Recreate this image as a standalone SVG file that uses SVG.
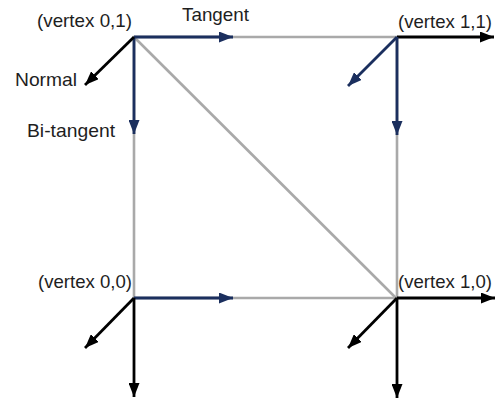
<svg xmlns="http://www.w3.org/2000/svg" width="498" height="401" viewBox="0 0 498 401">
<style>
.edge{stroke:#a9a9a9;stroke-width:2.6;fill:none}
.nv{stroke:#1b2f5e;stroke-width:2.8;fill:none}
.bk{stroke:#000;stroke-width:2.8;fill:none}
text{font-family:"Liberation Sans",Arial,sans-serif;font-size:18.5px;fill:#1e1e1e}
</style>
<defs>
<marker id="an" viewBox="0 0 14 11" refX="14" refY="5.5" markerWidth="14" markerHeight="11" markerUnits="userSpaceOnUse" orient="auto"><path d="M0,0L14,5.5L0,11z" fill="#1b2f5e"/></marker>
<marker id="ab" viewBox="0 0 14 11" refX="14" refY="5.5" markerWidth="14" markerHeight="11" markerUnits="userSpaceOnUse" orient="auto"><path d="M0,0L14,5.5L0,11z" fill="#000"/></marker>
</defs>
<g id="mesh">
<path class="edge" d="M134,37H397V298H134Z"/>
<path class="edge" d="M134,37L396,298"/>
</g>
<g id="connectors">
<path class="nv" d="M134,37H233" marker-end="url(#an)"/>
<path class="nv" d="M134,37V134" marker-end="url(#an)"/>
<path class="bk" d="M134,37L85,85" marker-end="url(#ab)"/>
<path class="bk" d="M397,37H494" marker-end="url(#ab)"/>
<path class="nv" d="M397,37L348,86" marker-end="url(#an)"/>
<path class="nv" d="M397,37V135" marker-end="url(#an)"/>
<path class="nv" d="M134,298H233" marker-end="url(#an)"/>
<path class="bk" d="M134,298L85,348" marker-end="url(#ab)"/>
<path class="bk" d="M134,298V397" marker-end="url(#ab)"/>
<path class="bk" d="M397,298H495" marker-end="url(#ab)"/>
<path class="bk" d="M397,298L348,348" marker-end="url(#ab)"/>
<path class="bk" d="M397,298V398" marker-end="url(#ab)"/>
</g>
<g id="v01"><text x="37" y="27" textLength="95" lengthAdjust="spacingAndGlyphs">(vertex 0,1)</text></g>
<g id="v11"><text x="398" y="28" textLength="94" lengthAdjust="spacingAndGlyphs">(vertex 1,1)</text></g>
<g id="v00"><text x="38" y="288" textLength="94" lengthAdjust="spacingAndGlyphs">(vertex 0,0)</text></g>
<g id="v10"><text x="398" y="288" textLength="94" lengthAdjust="spacingAndGlyphs">(vertex 1,0)</text></g>
<g id="labels">
<text x="182" y="21" textLength="67" lengthAdjust="spacingAndGlyphs">Tangent</text>
<text x="15" y="86" textLength="62" lengthAdjust="spacingAndGlyphs">Normal</text>
<text x="27" y="137" textLength="88" lengthAdjust="spacingAndGlyphs">Bi-tangent</text>
</g>
</svg>
